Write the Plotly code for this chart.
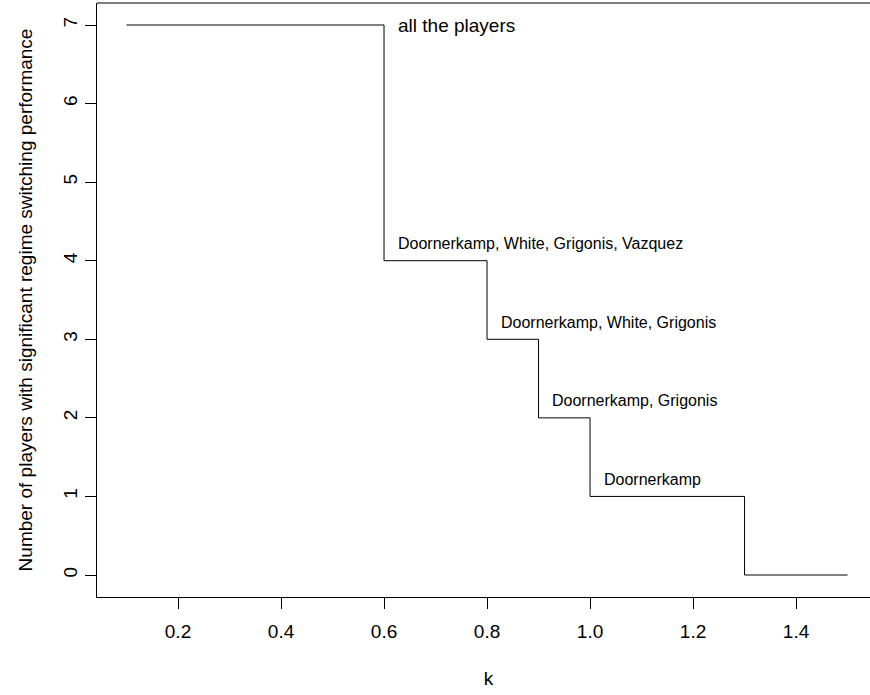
import plotly.graph_objects as go

# Step function data
k_values = [0.1, 0.6, 0.8, 0.9, 1.0, 1.3, 1.5]
n_players = [7, 4, 3, 2, 1, 0, 0]

# Annotations
label_x = [0.623, 0.623, 0.823, 0.923, 1.023]
label_y = [7.0, 4.22, 3.22, 2.22, 1.22]
label_text = ["all the players",
              "Doornerkamp, White, Grigonis, Vazquez",
              "Doornerkamp, White, Grigonis",
              "Doornerkamp, Grigonis",
              "Doornerkamp"]
label_size = [19, 16, 16, 16, 16]

x_ticks = [0.2, 0.4, 0.6, 0.8, 1.0, 1.2, 1.4]
x_tick_text = ["0.2", "0.4", "0.6", "0.8", "1.0", "1.2", "1.4"]
y_ticks = [0, 1, 2, 3, 4, 5, 6, 7]

FONT = "Liberation Sans, Arial, sans-serif"

fig = go.Figure()
fig.add_trace(go.Scatter(x=k_values, y=n_players, mode="lines",
                         line=dict(shape="hv", color="black", width=1),
                         showlegend=False, hoverinfo="skip"))

for x, y, t, s in zip(label_x, label_y, label_text, label_size):
    fig.add_annotation(x=x, y=y, text=t, showarrow=False, xanchor="left",
                       yanchor="middle", font=dict(family=FONT, size=s, color="black"))

# top border of the plot box
fig.add_shape(type="line", xref="paper", yref="paper", x0=0, x1=1, y0=1, y1=1,
              line=dict(color="black", width=1))

fig.update_layout(
    width=880, height=695,
    margin=dict(l=97, r=0, t=3, b=98),
    paper_bgcolor="white", plot_bgcolor="white",
    font=dict(family=FONT, color="black", size=19),
)
fig.update_xaxes(range=[0.0427, 1.563], tickvals=x_ticks, ticktext=x_tick_text,
                 automargin=False,
                 showgrid=False, zeroline=False, showline=True, linecolor="black",
                 linewidth=1, ticks="outside", ticklen=11, tickcolor="black",
                 ticklabelstandoff=6,
                 tickfont=dict(size=19), title=dict(text="k", font=dict(size=19), standoff=30))
fig.update_yaxes(range=[-0.28, 7.28], tickvals=y_ticks, showgrid=False, zeroline=False,
                 automargin=False,
                 showline=True, linecolor="black", linewidth=1, ticks="outside",
                 ticklen=11, tickcolor="black", tickangle=-90, tickfont=dict(size=19),
                 ticklabelstandoff=0,
                 title=dict(text="Number of players with significant regime switching performance",
                            font=dict(size=19), standoff=22))

fig.write_html("out.html", config={"displayModeBar": False},
               post_script="document.body.style.margin='0';document.body.style.overflow='hidden';")
